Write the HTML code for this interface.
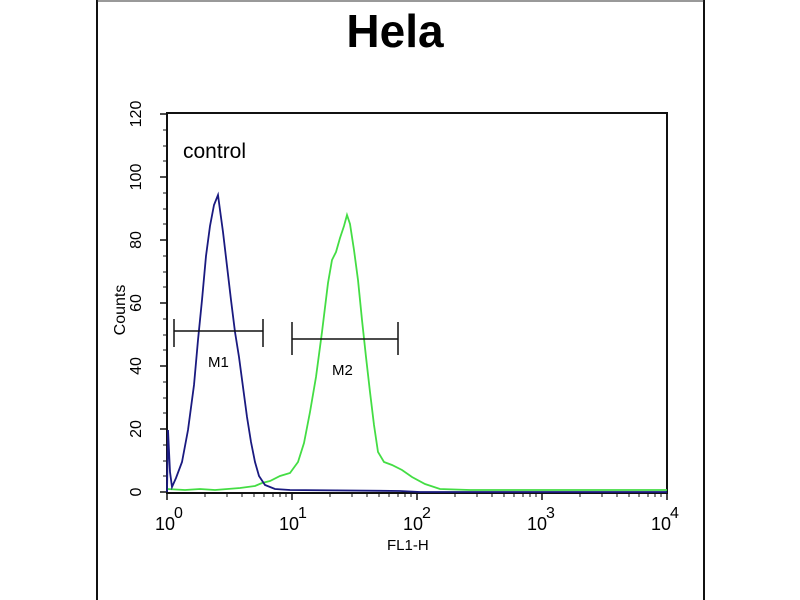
<!DOCTYPE html>
<html><head><meta charset="utf-8"><style>
html,body{margin:0;padding:0;background:#fff;width:800px;height:600px;overflow:hidden}
svg{display:block}
text{font-family:"Liberation Sans",Arial,sans-serif}
</style></head><body>
<svg width="800" height="600" viewBox="0 0 800 600">
<rect width="800" height="600" fill="#fff"/>
<line x1="97" y1="0" x2="97" y2="600" stroke="#111" stroke-width="2"/>
<line x1="704" y1="0" x2="704" y2="600" stroke="#111" stroke-width="2"/>
<line x1="97" y1="1" x2="704" y2="1" stroke="#333" stroke-width="1"/>
<text x="395" y="47" font-size="46" font-weight="bold" text-anchor="middle" fill="#000">Hela</text>
<rect x="167" y="113" width="500" height="380" fill="none" stroke="#111" stroke-width="2"/>
<g stroke="#111" stroke-width="1.5">
<line x1="160" y1="492" x2="167" y2="492"/><line x1="160" y1="429" x2="167" y2="429"/><line x1="160" y1="366" x2="167" y2="366"/><line x1="160" y1="303" x2="167" y2="303"/><line x1="160" y1="240" x2="167" y2="240"/><line x1="160" y1="177" x2="167" y2="177"/><line x1="160" y1="114" x2="167" y2="114"/>
</g>
<g stroke="#111" stroke-width="1">
<path d="M163 476H167M163 461H167M163 445H167M163 413H167M163 398H167M163 382H167M163 350H167M163 335H167M163 319H167M163 287H167M163 272H167M163 256H167M163 224H167M163 209H167M163 193H167M163 161H167M163 146H167M163 130H167"/>
</g>
<g font-size="16" fill="#000" text-anchor="middle">
<text transform="translate(135,492) rotate(-90)" dy="6">0</text>
<text transform="translate(135,429) rotate(-90)" dy="6">20</text>
<text transform="translate(135,366) rotate(-90)" dy="6">40</text>
<text transform="translate(135,303) rotate(-90)" dy="6">60</text>
<text transform="translate(135,240) rotate(-90)" dy="6">80</text>
<text transform="translate(135,177) rotate(-90)" dy="6">100</text>
<text transform="translate(135,114) rotate(-90)" dy="6">120</text>
<text transform="translate(120,310) rotate(-90)" dy="5" font-size="16">Counts</text>
</g>
<g stroke="#111" stroke-width="1.5" fill="none">
<path d="M167 493v7M292 493v7M417 493v7M542 493v7M667 493v7"/>
</g>
<g stroke="#111" stroke-width="1" fill="none">
<path d="M205 493v4M227 493v4M242 493v4M254 493v4M264 493v4M273 493v4M280 493v4M286 493v4
M330 493v4M352 493v4M367 493v4M379 493v4M389 493v4M398 493v4M405 493v4M411 493v4
M455 493v4M477 493v4M492 493v4M504 493v4M514 493v4M523 493v4M530 493v4M536 493v4
M580 493v4M602 493v4M617 493v4M629 493v4M639 493v4M648 493v4M655 493v4M661 493v4"/>
</g>
<g font-size="18" fill="#000">
<text x="155" y="530">10</text><text x="174" y="518" font-size="16">0</text>
<text x="279" y="530">10</text><text x="298" y="518" font-size="16">1</text>
<text x="403" y="530">10</text><text x="422" y="518" font-size="16">2</text>
<text x="527" y="530">10</text><text x="546" y="518" font-size="16">3</text>
<text x="651" y="530">10</text><text x="670" y="518" font-size="16">4</text>
<text x="387" y="550" font-size="15">FL1-H</text>
<text x="183" y="158" font-size="21">control</text>
</g>
<polyline fill="none" stroke="#44dd44" stroke-width="1.8" points="167,489 185,490 200,489 215,490 240,488 255,486 262,483 270,481 280,476 290,473 298,462 304,443 310,412 316,377 322,332 328,283 332,260 336,252 340,238 344,226 347,215 350,224 354,250 358,280 362,320 366,357 370,392 374,425 378,452 384,462 392,465 402,470 412,477 425,484 440,489 470,490 667,490"/>
<polyline fill="none" stroke="#1a1a80" stroke-width="1.8" points="167,492 168,430 170,472 172,487 176,478 182,462 188,430 194,385 198,340 202,300 206,256 210,226 214,205 218,195 220,210 223,232 227,266 231,300 235,332 239,357 243,387 247,417 251,442 255,462 259,476 265,485 275,489 290,490 400,491 420,492 667,492"/>
<g stroke="#111" stroke-width="1.5" fill="none">
<path d="M174 331H263M174 319V347M263 319V347"/>
<path d="M292 339H398M292 322V355M398 322V355"/>
</g>
<g font-size="15" fill="#000">
<text x="208" y="367">M1</text>
<text x="332" y="375">M2</text>
</g>
</svg>
</body></html>
